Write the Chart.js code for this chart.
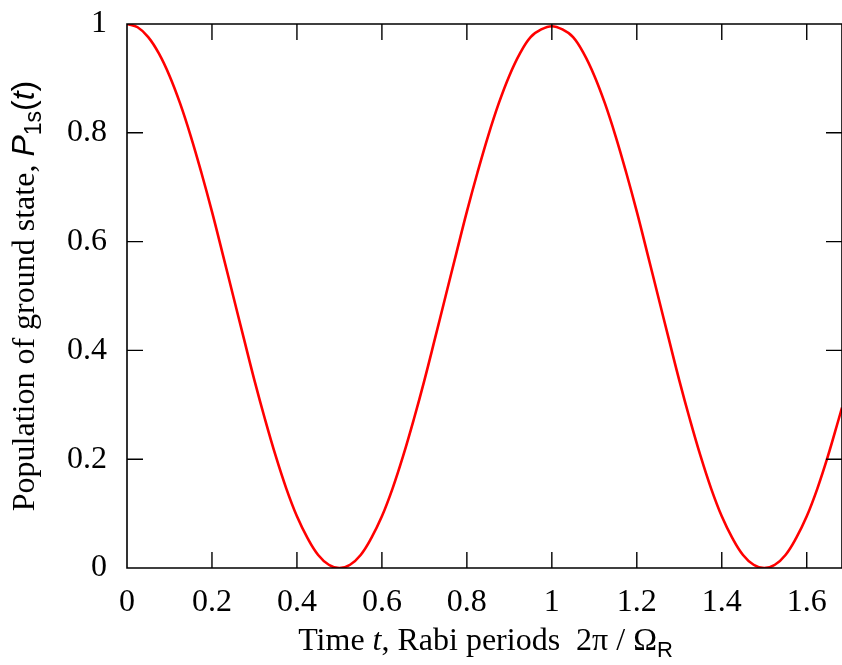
<!DOCTYPE html>
<html>
<head>
<meta charset="utf-8">
<script src="https://cdn.jsdelivr.net/npm/chart.js@4.4.0/dist/chart.umd.min.js"></script>
<style>
  html, body { margin: 0; padding: 0; background: #fff; overflow: hidden; }
  #wrap { width: 842px; height: 665px; }
</style>
</head>
<body>
<div id="wrap"><canvas id="rabi" width="842" height="665"></canvas></div>
<script>
// time in Rabi periods
var timePoints = [
  0, 0.025, 0.05, 0.075, 0.1, 0.125, 0.15, 0.175, 0.2, 0.225,
  0.25, 0.275, 0.3, 0.325, 0.35, 0.375, 0.4, 0.425, 0.45, 0.475,
  0.5, 0.525, 0.55, 0.575, 0.6, 0.625, 0.65, 0.675, 0.7, 0.725,
  0.75, 0.775, 0.8, 0.825, 0.85, 0.875, 0.9, 0.925, 0.95, 0.975,
  1, 1.025, 1.05, 1.075, 1.1, 1.125, 1.15, 1.175, 1.2, 1.225,
  1.25, 1.275, 1.3, 1.325, 1.35, 1.375, 1.4, 1.425, 1.45, 1.475,
  1.5, 1.525, 1.55, 1.575, 1.6, 1.625, 1.65, 1.675, 1.683
];
// ground state population P_1s(t)
var popValues = [
  1.000, 0.994, 0.976, 0.946, 0.905, 0.854, 0.794, 0.727, 0.655, 0.578,
  0.500, 0.422, 0.345, 0.273, 0.206, 0.146, 0.095, 0.055, 0.024, 0.006,
  0.000, 0.006, 0.024, 0.055, 0.095, 0.146, 0.206, 0.273, 0.345, 0.422,
  0.500, 0.578, 0.655, 0.727, 0.794, 0.854, 0.905, 0.946, 0.976, 0.990,
  0.996, 0.990, 0.976, 0.946, 0.905, 0.854, 0.794, 0.727, 0.655, 0.578,
  0.500, 0.422, 0.345, 0.273, 0.206, 0.146, 0.095, 0.055, 0.024, 0.006,
  0.000, 0.006, 0.024, 0.055, 0.095, 0.146, 0.206, 0.273, 0.295
];
var xTicks = [0, 0.2, 0.4, 0.6, 0.8, 1, 1.2, 1.4, 1.6];
var xTickLabels = ["0", "0.2", "0.4", "0.6", "0.8", "1", "1.2", "1.4", "1.6"];
var yTicks = [0, 0.2, 0.4, 0.6, 0.8, 1];
var yTickLabels = ["0", "0.2", "0.4", "0.6", "0.8", "1"];

var serif = "'Liberation Serif', 'Times New Roman', serif";
var sans = "'Liberation Sans', Arial, sans-serif";

// draw runs of text with mixed fonts, centred on (0,0) in current transform
function drawRuns(ctx, runs) {
  var total = 0;
  runs.forEach(function(r) { ctx.font = r.font; r.w = ctx.measureText(r.text).width; total += r.w; });
  var x = -total / 2;
  runs.forEach(function(r) {
    ctx.font = r.font;
    ctx.fillText(r.text, x, r.dy || 0);
    x += r.w;
  });
}

function noPad(s) { s.paddingTop = 0; s.paddingBottom = 0; s.paddingLeft = 0; s.paddingRight = 0; }

var framePlugin = {
  id: "frame",
  afterDraw: function(chart) {
    var ctx = chart.ctx, a = chart.chartArea;
    var xs = chart.scales.x, ys = chart.scales.y;
    var tl = 16;
    ctx.save();
    ctx.strokeStyle = "#000";
    ctx.lineWidth = 1.6;
    ctx.beginPath();
    ctx.rect(a.left, a.top, a.right - a.left, a.bottom - a.top);
    ctx.stroke();
    ctx.lineWidth = 1.4;
    ctx.beginPath();
    xTicks.forEach(function(v) {
      var px = xs.getPixelForValue(v);
      if (v === 0) return;
      ctx.moveTo(px, a.bottom); ctx.lineTo(px, a.bottom - tl);
      ctx.moveTo(px, a.top); ctx.lineTo(px, a.top + tl);
    });
    yTicks.forEach(function(v) {
      var py = ys.getPixelForValue(v);
      if (v === 0 || v === 1) return;
      ctx.moveTo(a.left, py); ctx.lineTo(a.left + tl, py);
      ctx.moveTo(a.right, py); ctx.lineTo(a.right - tl, py);
    });
    ctx.stroke();

    ctx.fillStyle = "#000";
    ctx.textBaseline = "alphabetic";
    ctx.textAlign = "left";
    // x axis title
    ctx.save();
    ctx.translate((a.left + a.right) / 2 + 1, 650);
    drawRuns(ctx, [
      { text: "Time ", font: "32px " + serif },
      { text: "t", font: "italic 32px " + serif },
      { text: ", Rabi periods  2\u03C0 / \u03A9", font: "32px " + serif },
      { text: "R", font: "22px " + sans, dy: 7 }
    ]);
    ctx.restore();
    // y axis title
    ctx.save();
    ctx.translate(34, (a.top + a.bottom) / 2);
    ctx.rotate(-Math.PI / 2);
    drawRuns(ctx, [
      { text: "Population of ground state, ", font: "32px " + serif },
      { text: "P", font: "italic 32px " + sans },
      { text: "1s", font: "23px " + sans, dy: 7 },
      { text: "(", font: "32px " + sans },
      { text: "t", font: "italic 32px " + sans },
      { text: ")", font: "32px " + sans }
    ]);
    ctx.restore();
    ctx.restore();
  }
};

new Chart(document.getElementById("rabi").getContext("2d"), {
  type: "line",
  data: {
    labels: timePoints,
    datasets: [{
      data: timePoints.map(function(t, i) { return { x: t, y: popValues[i] }; }),
      borderColor: "#ff0000",
      borderWidth: 2.6,
      pointRadius: 0,
      fill: false,
      tension: 0.4
    }]
  },
  options: {
    responsive: false,
    animation: false,
    events: [],
    layout: { padding: { top: 24, left: 0, right: 0, bottom: 0 } },
    plugins: { legend: { display: false }, tooltip: { enabled: false } },
    scales: {
      x: {
        type: "linear",
        min: 0,
        max: 1.683,
        grid: { display: false, drawTicks: false },
        border: { display: false },
        afterBuildTicks: function(s) { s.ticks = xTicks.map(function(v) { return { value: v }; }); },
        afterFit: function(s) { s.height = 97; noPad(s); },
        ticks: {
          color: "#000",
          padding: 15,
          maxRotation: 0,
          autoSkip: false,
          font: { family: serif, size: 32 },
          callback: function(v) { return xTickLabels[xTicks.indexOf(v)]; }
        }
      },
      y: {
        min: 0,
        max: 1,
        grid: { display: false, drawTicks: false },
        border: { display: false },
        afterBuildTicks: function(s) { s.ticks = yTicks.map(function(v) { return { value: v }; }); },
        afterFit: function(s) { s.width = 127; noPad(s); },
        ticks: {
          color: "#000",
          padding: 20,
          autoSkip: false,
          font: { family: serif, size: 32 },
          callback: function(v) { return yTickLabels[yTicks.indexOf(v)]; }
        }
      }
    }
  },
  plugins: [framePlugin]
});
</script>
</body>
</html>
